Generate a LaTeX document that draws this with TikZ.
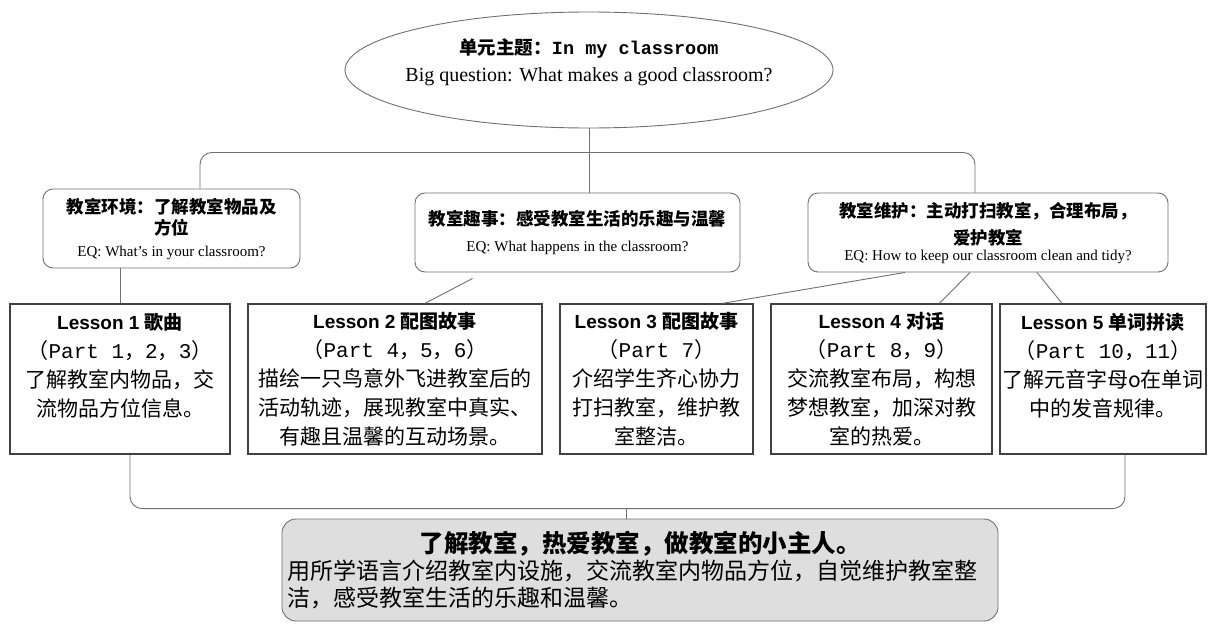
\documentclass[tikz,border=0pt]{standalone}
\usepackage{fontspec}
\setmainfont{Liberation Serif}
\newfontfamily\cjk{Noto Sans CJK SC}
\newfontfamily\monofont{Liberation Mono}
\newfontfamily\headfont{Liberation Sans}
\usetikzlibrary{calc, positioning, shapes}
\definecolor{linegray}{HTML}{707070}
\definecolor{goalgray}{HTML}{DEDEDE}
\newcommand{\pn}[1]{{\monofont #1}}
\newcommand{\eq}[1]{{\rmfamily\mdseries\fontsize{15}{18}\selectfont #1}}
\tikzstyle{link}=[draw=linegray, line width=0.9pt]
\tikzstyle{theme box}=[draw=linegray, line width=0.9pt, rounded corners=10pt, align=center, inner sep=2pt, minimum height=79pt, font=\cjk\bfseries\fontsize{17.5}{21}\selectfont]
\tikzstyle{lesson box}=[draw=black!75, line width=1.3pt, align=center, inner sep=2pt, minimum height=150pt, font=\cjk\fontsize{21}{29}\selectfont]
\tikzstyle{goal box}=[draw=linegray, line width=0.9pt, fill=goalgray, rounded corners=14pt, align=left, text width=706pt, inner sep=5pt, minimum height=102pt, font=\cjk\fontsize{23}{27}\selectfont]

\begin{document}
\begin{tikzpicture}[x=1pt, y=-1pt]
        \useasboundingbox[fill=white] (0,0) rectangle (1214,624);

		% unit theme
		\node[ellipse, draw=linegray, line width=0.9pt, minimum width=488pt, minimum height=116pt] (U) at (589,70) {};
		\node[align=center, font=\fontsize{20}{27}\selectfont] (UT) at (589,62) {{\cjk\bfseries\fontsize{18.5}{22}\selectfont 单元主题：}{\monofont\bfseries\fontsize{18.5}{22}\selectfont In my classroom}\\Big question: What makes a good classroom?};

		% sub themes
		\node[theme box, minimum width=257pt] (T1) at (171.5,228.5) {教室环境：了解教室物品及\\方位\\[1pt]\eq{EQ: What's in your classroom?}};
		\node[theme box, minimum width=325pt] (T2) at (577.5,232.5) {教室趣事：感受教室生活的乐趣与温馨\\[5pt]\eq{EQ: What happens in the classroom?}};
		\node[theme box, minimum width=360pt] (T3) at (988,232.5) {教室维护：主动打扫教室，合理布局，\\[6pt]爱护教室\\[-5pt]\eq{EQ: How to keep our classroom clean and tidy?}};

		% lessons
		\node[lesson box, minimum width=220pt] (L1) at (120,379) {{\headfont\bfseries\fontsize{19}{29}\selectfont Lesson 1 }{\bfseries\fontsize{19}{29}\selectfont 歌曲}\\（\pn{Part 1}，\pn{2}，\pn{3}）\\了解教室内物品，交\\流物品方位信息。\\\mbox{}};
		\node[lesson box, minimum width=294pt] (L2) at (395,379) {{\headfont\bfseries\fontsize{19}{29}\selectfont Lesson 2 }{\bfseries\fontsize{19}{29}\selectfont 配图故事}\\（\pn{Part 4}，\pn{5}，\pn{6}）\\描绘一只鸟意外飞进教室后的\\活动轨迹，展现教室中真实、\\有趣且温馨的互动场景。};
		\node[lesson box, minimum width=193pt] (L3) at (656.5,379) {{\headfont\bfseries\fontsize{19}{29}\selectfont Lesson 3 }{\bfseries\fontsize{19}{29}\selectfont 配图故事}\\（\pn{Part 7}）\\介绍学生齐心协力\\打扫教室，维护教\\室整洁。};
		\node[lesson box, minimum width=221pt] (L4) at (881.5,379) {{\headfont\bfseries\fontsize{19}{29}\selectfont Lesson 4 }{\bfseries\fontsize{19}{29}\selectfont 对话}\\（\pn{Part 8}，\pn{9}）\\交流教室布局，构想\\梦想教室，加深对教\\室的热爱。};
		\node[lesson box, minimum width=206pt] (L5) at (1103,379) {{\headfont\bfseries\fontsize{19}{29}\selectfont Lesson 5 }{\bfseries\fontsize{19}{29}\selectfont 单词拼读}\\（\pn{Part 10}，\pn{11}）\\了解元音字母o在单词\\中的发音规律。\\\mbox{}};

		% goal
		\node[goal box] (G) at (640,570) {\makebox[706pt]{\bfseries\fontsize{24.5}{27}\selectfont 了解教室，热爱教室，做教室的小主人。}\\用所学语言介绍教室内设施，交流教室内物品方位，自觉维护教室整\\洁，感受教室生活的乐趣和温馨。};

		% connectors
		\draw[link] (U.south) -- (U.south |- T2.north);
		\draw[link, rounded corners=12pt] ([xshift=28.5pt]T1.north) |- ($(U.south)+(0,24)$) -| ([xshift=-13pt]T3.north);
		\path
		(T1.south -| L1.north) edge[link] (L1.north)
		([xshift=-105pt,yshift=-6pt]T2.south) edge[link] ([xshift=30pt]L2.north)
		([xshift=-83pt]T3.south) edge[link] ([xshift=66pt]L3.north)
		([xshift=-18pt]T3.south) edge[link] ([xshift=58pt]L4.north)
		([xshift=49pt]T3.south) edge[link] ([xshift=-41pt]L5.north);
		\draw[link, rounded corners=12pt] ([xshift=10pt]L1.south) |- ($(G.north)+(0,-10)$) -| ([xshift=22pt]L5.south);
		\draw[link] ([xshift=-14pt]G.north) -- ++(0,-10);
	\end{tikzpicture}
\end{document}
